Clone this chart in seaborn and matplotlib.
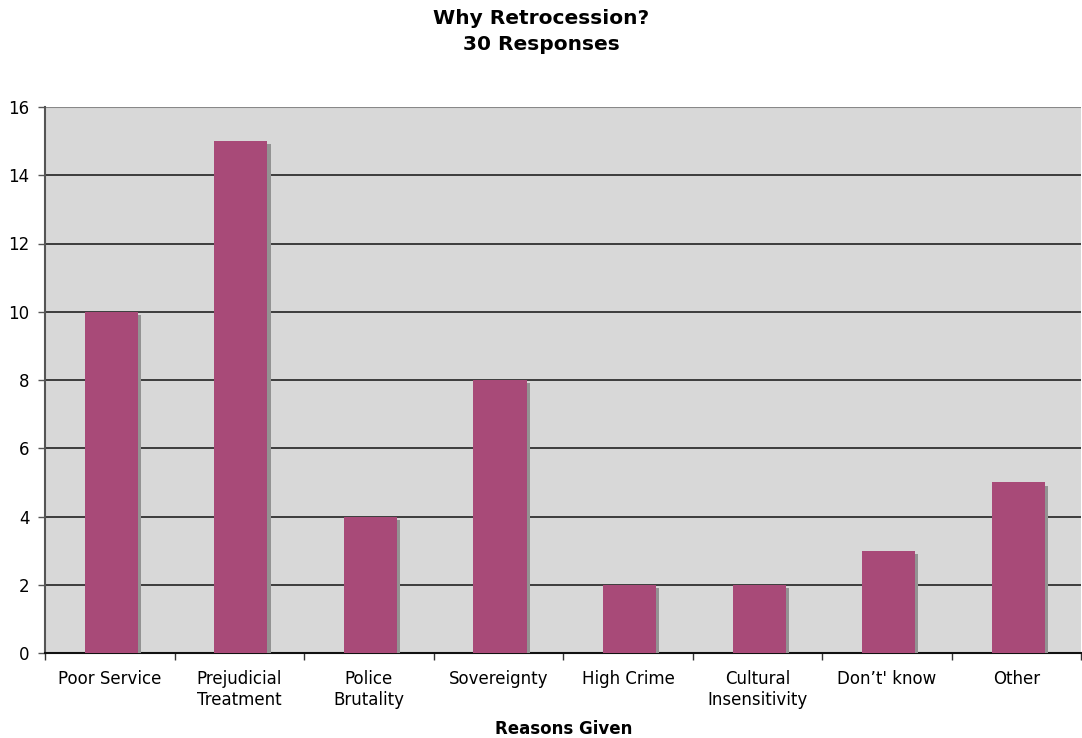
import numpy as np
import pandas as pd
import matplotlib
matplotlib.use("Agg")
import matplotlib.pyplot as plt
import matplotlib.patheffects as pe
import seaborn as sns

# data
reasons = ["Poor Service", "Prejudicial\nTreatment", "Police\nBrutality", "Sovereignty",
           "High Crime", "Cultural\nInsensitivity", "Don\u2019t' know", "Other"]
counts = [10, 15, 4, 8, 2, 2, 3, 5]
yticks = [0, 2, 4, 6, 8, 10, 12, 14, 16]

df = pd.DataFrame({"reason": reasons, "count": counts})

sns.set_style("white")
plt.rcParams["font.family"] = ["DejaVu Sans"]
plt.rcParams["text.color"] = "black"
plt.rcParams["xtick.color"] = "black"
plt.rcParams["ytick.color"] = "black"
plt.rcParams["axes.labelcolor"] = "black"

fig = plt.figure(figsize=(10.82, 7.38), dpi=100)
ax = fig.add_axes([45 / 1082, 85 / 738, 1 - 45 / 1082 - 0.0005, (653 - 107) / 738])
ax.set_facecolor("#D8D8D8")

sns.barplot(data=df, x="reason", y="count", color="#A84A78", saturation=1,
            width=0.41, ax=ax, zorder=3)
for p in ax.patches:
    p.set_x(p.get_x() + 0.012)
    p.set_path_effects([pe.SimplePatchShadow(offset=(2.3, -2.3), shadow_rgbFace="#939393", alpha=1),
                        pe.Normal()])
    p.set_edgecolor("none")

ax.set_ylim(0, 16)
ax.set_xlim(-0.5, len(reasons) - 0.5)
ax.set_yticks(yticks)
ax.yaxis.grid(True, color="#222222", linewidth=1.2, zorder=1)
ax.set_axisbelow(True)

ax.set_xticks(range(len(reasons)))
ax.set_xticklabels(reasons, fontsize=12, linespacing=1.25)
ax.set_xticks(np.arange(-0.5, len(reasons)), minor=True)
ax.tick_params(axis="x", which="major", length=0, pad=12, bottom=True)
ax.tick_params(axis="x", which="minor", length=5, width=1, color="#333333", bottom=True)
ax.tick_params(axis="y", length=5, width=1, color="#555555", labelsize=12, pad=6, left=True)

for s in ["top", "right"]:
    ax.spines[s].set_visible(False)
ax.spines["left"].set_color("#555555")
ax.spines["left"].set_linewidth(1.5)
ax.spines["bottom"].set_color("#111111")
ax.spines["bottom"].set_linewidth(1.5)
ax.axhline(16, color="#888888", linewidth=1.5, zorder=2)

ax.set_xlabel("Reasons Given", fontsize=12, fontweight="bold", labelpad=8)
ax.set_ylabel("")
fig.text(0.5, 0.988, "Why Retrocession?\n30 Responses", ha="center", va="top",
         fontsize=14.5, fontweight="bold", linespacing=1.45)

fig.savefig("out.png", dpi=100)
